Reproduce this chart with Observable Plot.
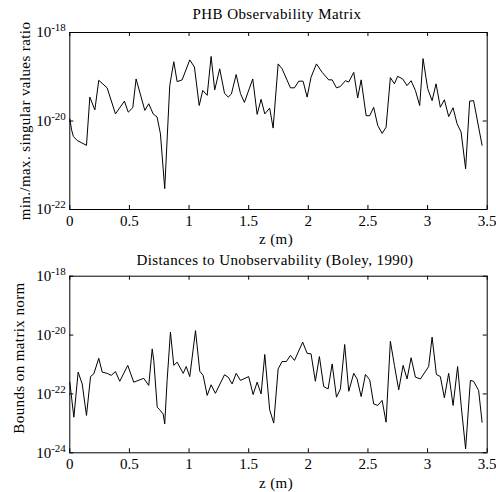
<!DOCTYPE html>
<html><head><meta charset="utf-8">
<script src="https://cdn.jsdelivr.net/npm/d3@7"></script>
<script src="https://cdn.jsdelivr.net/npm/@observablehq/plot@0.6"></script>
<style>
body{margin:0;background:#fff;}
#wrap{position:relative;width:496px;height:492px;background:#fff;font-family:"Liberation Serif","Times New Roman",serif;color:#000;overflow:hidden;}
#wrap svg{position:absolute;left:0;}
.lbl{position:absolute;white-space:nowrap;font-size:15px;letter-spacing:0.4px;line-height:1;transform:translate(-50%,-50%);}
.rot{transform:translate(-50%,-50%) rotate(-90deg);}
</style></head><body><div id="wrap"></div>
<script>
// Top panel: PHB Observability Matrix (log10 of min/max singular value ratio)
const zTop = [0, 0.015, 0.03, 0.062, 0.14, 0.168, 0.21, 0.243, 0.313, 0.383, 0.458, 0.49, 0.528, 0.556, 0.629, 0.662, 0.699, 0.732, 0.76, 0.796, 0.838, 0.872, 0.90, 0.942, 1.006, 1.045, 1.085, 1.115, 1.152, 1.185, 1.215, 1.257, 1.297, 1.328, 1.355, 1.395, 1.431, 1.464, 1.534, 1.571, 1.604, 1.635, 1.676, 1.705, 1.747, 1.780, 1.850, 1.884, 1.920, 1.956, 1.990, 2.023, 2.068, 2.116, 2.171, 2.200, 2.236, 2.269, 2.311, 2.339, 2.381, 2.414, 2.443, 2.485, 2.515, 2.548, 2.582, 2.619, 2.652, 2.688, 2.722, 2.749, 2.791, 2.828, 2.862, 2.898, 2.934, 2.962, 3.001, 3.038, 3.071, 3.107, 3.141, 3.177, 3.214, 3.247, 3.281, 3.319, 3.353, 3.386, 3.457];
const log10Top = [-19.95, -20.2, -20.35, -20.44, -20.55, -19.46, -19.75, -19.08, -19.25, -19.84, -19.55, -19.80, -19.70, -19.05, -19.76, -19.61, -19.84, -19.91, -20.29, -21.53, -19.20, -18.66, -19.11, -19.07, -18.62, -18.78, -19.65, -19.31, -19.42, -18.54, -19.30, -18.82, -19.37, -19.46, -19.39, -18.95, -19.38, -19.58, -19.05, -19.85, -19.51, -19.84, -19.71, -20.16, -18.71, -18.82, -19.25, -19.25, -19.10, -19.10, -19.46, -19.01, -18.71, -18.90, -19.07, -19.07, -19.25, -19.22, -19.09, -19.12, -18.90, -19.48, -19.07, -19.88, -19.88, -19.69, -20.10, -20.28, -20.14, -19.02, -19.16, -18.99, -19.05, -19.20, -19.09, -19.31, -19.65, -18.59, -19.27, -19.54, -19.16, -19.69, -19.52, -19.90, -19.70, -20.06, -20.25, -21.08, -19.55, -19.54, -20.55];

// Bottom panel: Distances to Unobservability (log10 of bound)
const zBot = [0, 0.034, 0.070, 0.104, 0.140, 0.174, 0.201, 0.243, 0.272, 0.313, 0.347, 0.383, 0.419, 0.486, 0.536, 0.620, 0.662, 0.691, 0.704, 0.733, 0.754, 0.783, 0.796, 0.816, 0.844, 0.872, 0.900, 0.951, 0.976, 1.006, 1.054, 1.090, 1.118, 1.152, 1.185, 1.221, 1.297, 1.328, 1.361, 1.395, 1.431, 1.500, 1.537, 1.571, 1.604, 1.635, 1.676, 1.710, 1.747, 1.780, 1.816, 1.850, 1.884, 1.953, 1.990, 2.023, 2.059, 2.093, 2.129, 2.166, 2.200, 2.236, 2.269, 2.305, 2.339, 2.381, 2.409, 2.443, 2.479, 2.515, 2.548, 2.582, 2.619, 2.652, 2.688, 2.722, 2.758, 2.795, 2.828, 2.862, 2.898, 2.940, 3.009, 3.038, 3.074, 3.107, 3.141, 3.177, 3.214, 3.252, 3.283, 3.319, 3.359, 3.386, 3.428, 3.457];
const log10Bot = [-21.60, -22.79, -21.26, -21.66, -22.73, -21.41, -21.32, -20.79, -21.26, -21.30, -21.37, -21.24, -21.57, -21.03, -21.60, -21.47, -21.71, -20.47, -20.86, -22.45, -22.54, -22.68, -23.02, -21.54, -19.90, -21.03, -20.92, -21.30, -21.07, -21.41, -19.85, -21.23, -21.37, -22.05, -21.69, -21.98, -21.35, -21.43, -21.66, -21.30, -21.54, -21.41, -22.02, -21.60, -22.00, -20.66, -22.54, -22.99, -21.15, -20.90, -20.90, -20.69, -20.86, -20.24, -20.62, -20.64, -21.57, -20.73, -21.75, -21.83, -20.98, -22.11, -21.83, -20.32, -21.91, -21.30, -21.49, -22.09, -21.34, -21.52, -22.34, -22.39, -22.22, -22.96, -20.21, -21.03, -21.86, -21.03, -21.49, -20.77, -21.43, -21.49, -21.07, -20.07, -21.34, -21.41, -22.13, -21.30, -22.39, -21.07, -22.45, -23.87, -21.54, -21.57, -21.88, -22.96];

const xTicks = [0, 0.5, 1, 1.5, 2, 2.5, 3, 3.5];
const xTickLabels = ["0", "0.5", "1", "1.5", "2", "2.5", "3", "3.5"];
const yTicksTop = [1e-22, 1e-20, 1e-18];
const yTicksBot = [1e-24, 1e-22, 1e-20, 1e-18];
const titles = ["PHB Observability Matrix", "Distances to Unobservability (Boley, 1990)"];
const yLabels = ["min./max. singular values ratio", "Bounds on matrix norm"];
const xLabel = "z (m)";

const W = 496, H = 246, ML = 69.3, MR = 9.3;
const wrap = document.getElementById("wrap");

function panel(z, lg, yDomain, yTicks, marginTop, marginBottom, top) {
  const data = z.map((d, i) => ({z: d, v: Math.pow(10, lg[i])}));
  const fh = H - marginTop - marginBottom;
  const fw = W - ML - MR;
  const svg = Plot.plot({
    width: W, height: H, marginLeft: ML, marginRight: MR, marginTop, marginBottom,
    style: {fontFamily: "'Liberation Serif', 'Times New Roman', serif", fontSize: "15px", background: "white", color: "black", overflow: "visible"},
    x: {domain: [0, 3.5]},
    y: {type: "log", domain: yDomain},
    marks: [
      Plot.tickX(xTicks, {x: d => d, insetTop: fh - 4, stroke: "black"}),
      Plot.tickX(xTicks, {x: d => d, insetBottom: fh - 4, stroke: "black"}),
      Plot.tickY(yTicks, {y: d => d, insetRight: fw - 4, stroke: "black"}),
      Plot.tickY(yTicks, {y: d => d, insetLeft: fw - 4, stroke: "black"}),
      Plot.axisX({ticks: xTicks, tickSize: 0, tickPadding: 6, label: null, tickFormat: d => xTickLabels[xTicks.indexOf(d)]}),
      Plot.axisY({ticks: yTicks, tickSize: 0, tickPadding: 4, label: null, tickFormat: d => "10^" + Math.round(Math.log10(d))}),
      Plot.line(data, {x: "z", y: "v", stroke: "black", strokeWidth: 1}),
      Plot.frame({stroke: "black"})
    ]
  });
  svg.style.top = top + "px";
  svg.querySelectorAll('g[aria-label="y-axis tick label"] text').forEach(t => {
    const s = t.textContent;
    const exp = s.split("^")[1];
    t.textContent = "10";
    const ts = document.createElementNS("http://www.w3.org/2000/svg", "tspan");
    ts.setAttribute("dy", "-0.55em");
    ts.setAttribute("font-size", "11px");
    ts.textContent = exp;
    t.appendChild(ts);
  });
  wrap.appendChild(svg);
}

panel(zTop, log10Top, [1e-22, 1e-18], yTicksTop, 32, 37, 0);
panel(zBot, log10Bot, [1e-24, 1e-18], yTicksBot, 29.7, 39.7, 246);

function label(text, x, y, rot) {
  const d = document.createElement("div");
  d.className = "lbl" + (rot ? " rot" : "");
  d.style.left = x + "px";
  d.style.top = y + "px";
  d.textContent = text;
  wrap.appendChild(d);
}
label(titles[0], 277, 14, false);
label(xLabel, 276, 239, false);
label(yLabels[0], 25, 121, true);
label(titles[1], 275, 260, false);
label(xLabel, 276, 483, false);
label(yLabels[1], 19, 358, true);
</script>
</body></html>
